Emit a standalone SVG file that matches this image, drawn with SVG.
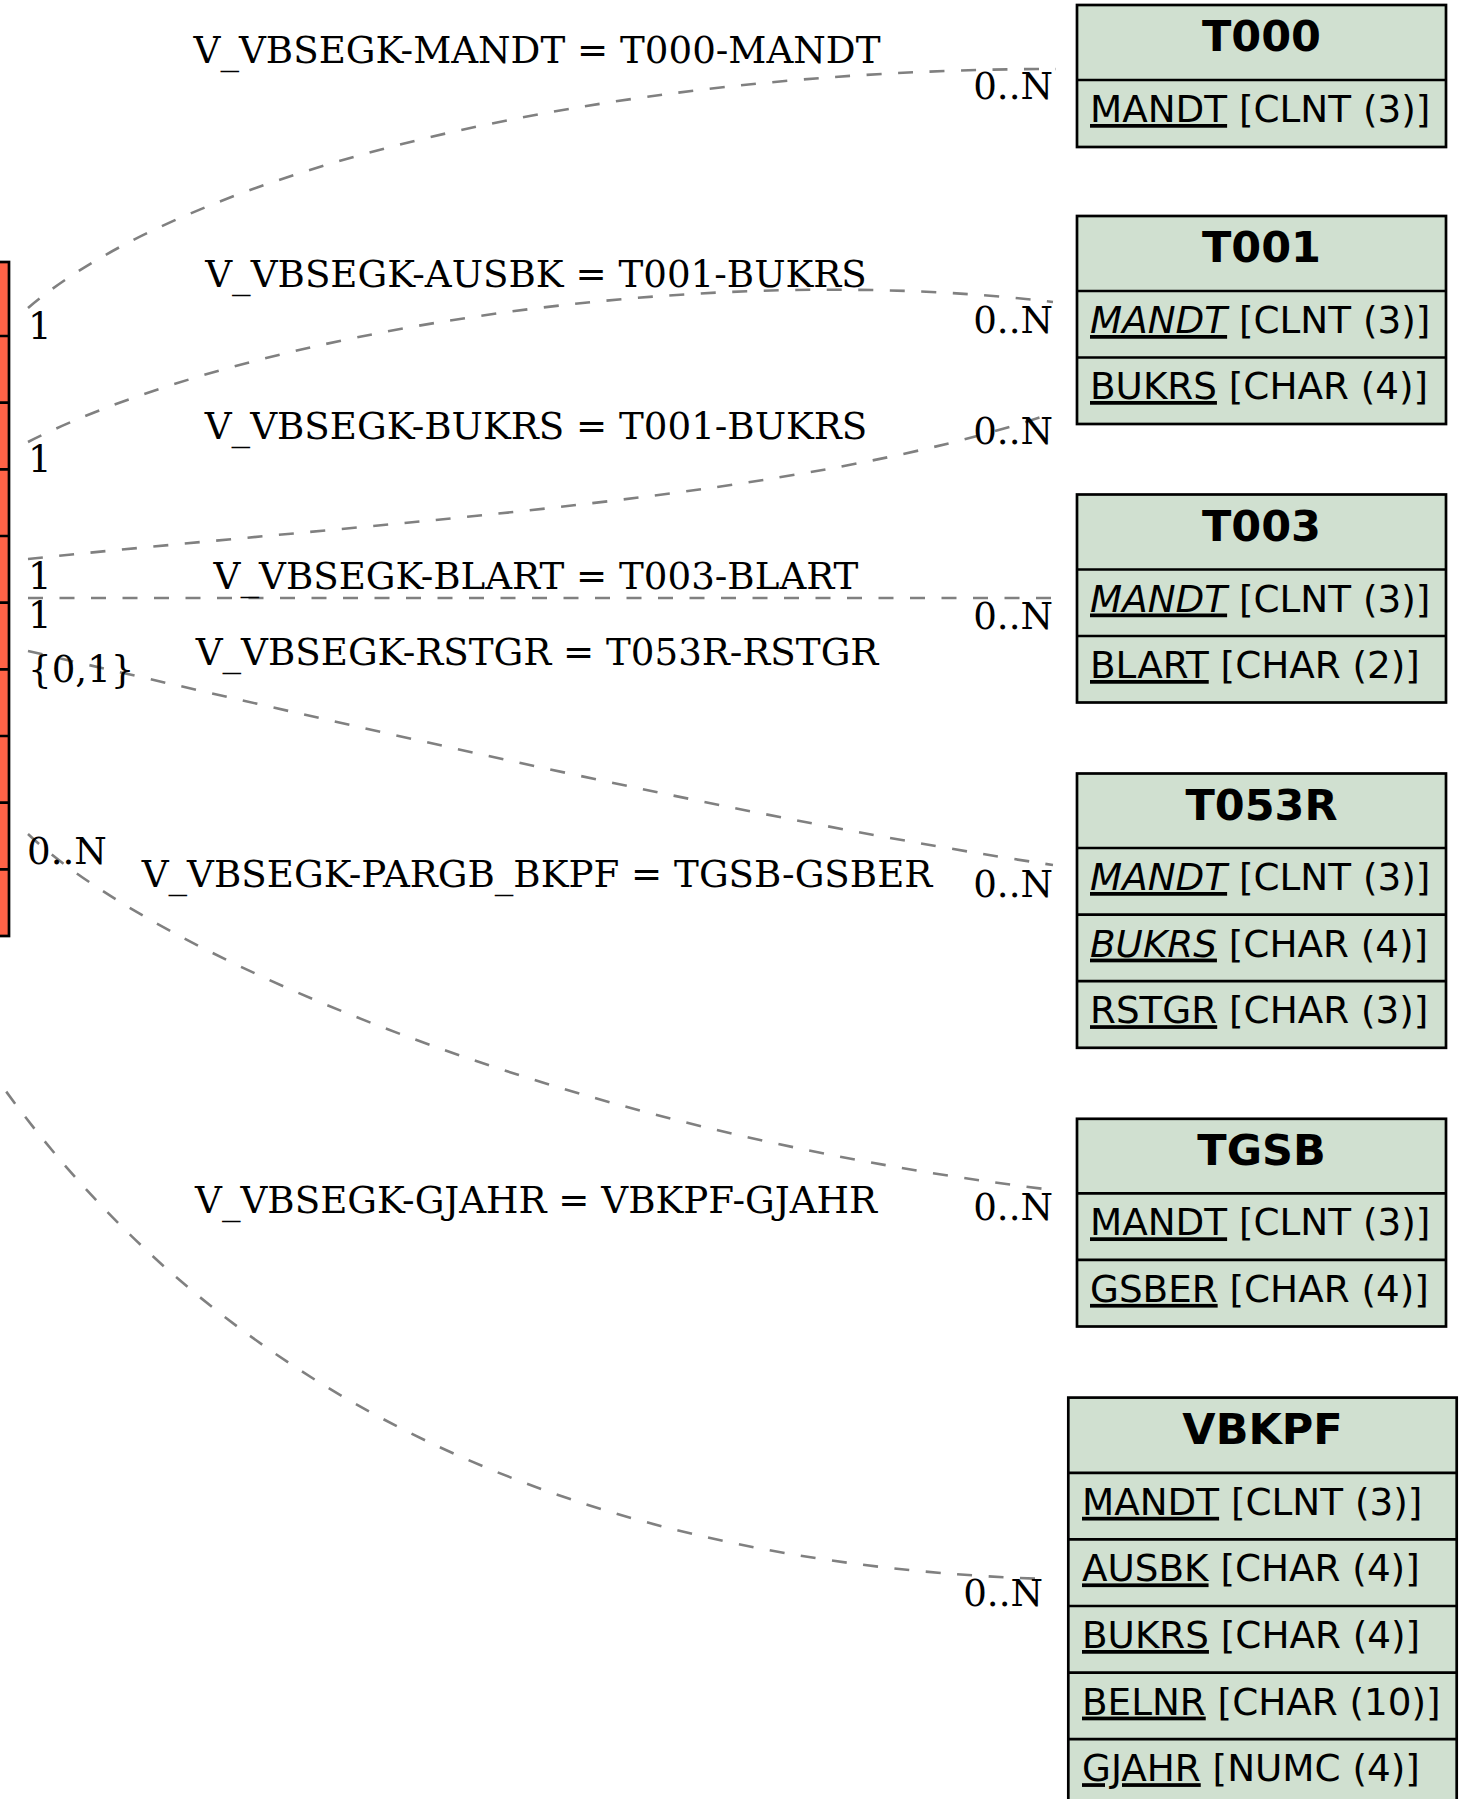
<svg xmlns="http://www.w3.org/2000/svg" width="1463" height="1799" viewBox="0 0 1463 1799">
<style>
.tbl{fill:#d0e0d0;stroke:#000;stroke-width:2.7}
.main{fill:#ff6347;stroke:#000;stroke-width:2.7}
.sep{stroke:#000;stroke-width:2.7}
.hd{font-family:"DejaVu Sans",sans-serif;font-weight:bold;font-size:43px;text-anchor:middle;fill:#000}
.fd{font-family:"DejaVu Sans",sans-serif;font-size:37.3px;fill:#000}
.u{text-decoration:underline}
.i{font-style:italic}
.lbl{font-family:"DejaVu Serif",serif;font-size:37.2px;fill:#000}
.c{text-anchor:middle}
.e{text-anchor:end}
.edge{fill:none;stroke:#808080;stroke-width:2.6;stroke-dasharray:15,16.5}
</style>
<rect width="1463" height="1799" fill="#fff"/>
<g id="connectors">
<path class="edge" d="M28,308 C190,170 600,69 1056,69"/>
<path class="edge" d="M28,442 C250,330 700,260 1053,302"/>
<path class="edge" d="M28,559 C400,520 800,500 1053,413"/>
<path class="edge" d="M28,598 L1053,598"/>
<path class="edge" d="M28,651 C350,725 750,820 1053,865"/>
<path class="edge" d="M28,834 C150,950 550,1130 1053,1190"/>
<path class="edge" d="M-12,1066 C150,1300 450,1560 1046,1579"/>
</g>
<g id="edge-labels">
<text class="lbl c" x="537" y="63">V_VBSEGK-MANDT = T000-MANDT</text>
<text class="lbl c" x="536" y="287">V_VBSEGK-AUSBK = T001-BUKRS</text>
<text class="lbl c" x="536" y="439">V_VBSEGK-BUKRS = T001-BUKRS</text>
<text class="lbl c" x="536" y="589">V_VBSEGK-BLART = T003-BLART</text>
<text class="lbl c" x="537" y="665">V_VBSEGK-RSTGR = T053R-RSTGR</text>
<text class="lbl c" x="537" y="887">V_VBSEGK-PARGB_BKPF = TGSB-GSBER</text>
<text class="lbl c" x="536" y="1213">V_VBSEGK-GJAHR = VBKPF-GJAHR</text>
<text class="lbl" x="28" y="339">1</text>
<text class="lbl" x="28" y="472">1</text>
<text class="lbl" x="28" y="589">1</text>
<text class="lbl" x="28" y="628">1</text>
<text class="lbl" x="28" y="682">{0,1}</text>
<text class="lbl" x="27" y="864">0..N</text>
<text class="lbl e" x="1053" y="99">0..N</text>
<text class="lbl e" x="1053" y="333">0..N</text>
<text class="lbl e" x="1053" y="444">0..N</text>
<text class="lbl e" x="1053" y="629">0..N</text>
<text class="lbl e" x="1053" y="897">0..N</text>
<text class="lbl e" x="1053" y="1220">0..N</text>
<text class="lbl e" x="1043" y="1606">0..N</text>
</g>
<g id="V_VBSEGK">
<rect class="main" x="-300" y="262" width="309" height="674"/>
<line class="sep" x1="-300" y1="336" x2="9" y2="336"/>
<line class="sep" x1="-300" y1="402.7" x2="9" y2="402.7"/>
<line class="sep" x1="-300" y1="469.3" x2="9" y2="469.3"/>
<line class="sep" x1="-300" y1="536" x2="9" y2="536"/>
<line class="sep" x1="-300" y1="602.7" x2="9" y2="602.7"/>
<line class="sep" x1="-300" y1="669.3" x2="9" y2="669.3"/>
<line class="sep" x1="-300" y1="736" x2="9" y2="736"/>
<line class="sep" x1="-300" y1="802.7" x2="9" y2="802.7"/>
<line class="sep" x1="-300" y1="869.3" x2="9" y2="869.3"/>
</g>
<g id="T000">
<rect class="tbl" x="1077" y="5" width="369" height="142"/>
<line class="sep" x1="1077" y1="80" x2="1446" y2="80"/>
<text class="hd" x="1261.5" y="51">T000</text>
<text class="fd" x="1090" y="122"><tspan class="u">MANDT</tspan> [CLNT (3)]</text>
</g>
<g id="T001">
<rect class="tbl" x="1077" y="216" width="369" height="208"/>
<line class="sep" x1="1077" y1="291" x2="1446" y2="291"/>
<line class="sep" x1="1077" y1="357.5" x2="1446" y2="357.5"/>
<text class="hd" x="1261.5" y="262">T001</text>
<text class="fd" x="1090" y="333"><tspan class="u i">MANDT</tspan> [CLNT (3)]</text>
<text class="fd" x="1090" y="399"><tspan class="u">BUKRS</tspan> [CHAR (4)]</text>
</g>
<g id="T003">
<rect class="tbl" x="1077" y="494.5" width="369" height="208"/>
<line class="sep" x1="1077" y1="569.5" x2="1446" y2="569.5"/>
<line class="sep" x1="1077" y1="636" x2="1446" y2="636"/>
<text class="hd" x="1261.5" y="540.5">T003</text>
<text class="fd" x="1090" y="611.5"><tspan class="u i">MANDT</tspan> [CLNT (3)]</text>
<text class="fd" x="1090" y="678"><tspan class="u">BLART</tspan> [CHAR (2)]</text>
</g>
<g id="T053R">
<rect class="tbl" x="1077" y="773.5" width="369" height="274.3"/>
<line class="sep" x1="1077" y1="848" x2="1446" y2="848"/>
<line class="sep" x1="1077" y1="914.6" x2="1446" y2="914.6"/>
<line class="sep" x1="1077" y1="981.2" x2="1446" y2="981.2"/>
<text class="hd" x="1261.5" y="819.5">T053R</text>
<text class="fd" x="1090" y="890"><tspan class="u i">MANDT</tspan> [CLNT (3)]</text>
<text class="fd" x="1090" y="956.6"><tspan class="u i">BUKRS</tspan> [CHAR (4)]</text>
<text class="fd" x="1090" y="1023.2"><tspan class="u">RSTGR</tspan> [CHAR (3)]</text>
</g>
<g id="TGSB">
<rect class="tbl" x="1077" y="1118.8" width="369" height="207.7"/>
<line class="sep" x1="1077" y1="1193.3" x2="1446" y2="1193.3"/>
<line class="sep" x1="1077" y1="1259.9" x2="1446" y2="1259.9"/>
<text class="hd" x="1261.5" y="1164.8">TGSB</text>
<text class="fd" x="1090" y="1235.3"><tspan class="u">MANDT</tspan> [CLNT (3)]</text>
<text class="fd" x="1090" y="1301.9"><tspan class="u">GSBER</tspan> [CHAR (4)]</text>
</g>
<g id="VBKPF">
<rect class="tbl" x="1068.3" y="1397.6" width="388.4" height="408.2"/>
<line class="sep" x1="1068.3" y1="1472.8" x2="1456.7" y2="1472.8"/>
<line class="sep" x1="1068.3" y1="1539.4" x2="1456.7" y2="1539.4"/>
<line class="sep" x1="1068.3" y1="1606" x2="1456.7" y2="1606"/>
<line class="sep" x1="1068.3" y1="1672.6" x2="1456.7" y2="1672.6"/>
<line class="sep" x1="1068.3" y1="1739.2" x2="1456.7" y2="1739.2"/>
<text class="hd" x="1262.5" y="1443.6">VBKPF</text>
<text class="fd" x="1082" y="1514.8"><tspan class="u">MANDT</tspan> [CLNT (3)]</text>
<text class="fd" x="1082" y="1581.4"><tspan class="u">AUSBK</tspan> [CHAR (4)]</text>
<text class="fd" x="1082" y="1648"><tspan class="u">BUKRS</tspan> [CHAR (4)]</text>
<text class="fd" x="1082" y="1714.6"><tspan class="u">BELNR</tspan> [CHAR (10)]</text>
<text class="fd" x="1082" y="1781.2"><tspan class="u">GJAHR</tspan> [NUMC (4)]</text>
</g>
</svg>
